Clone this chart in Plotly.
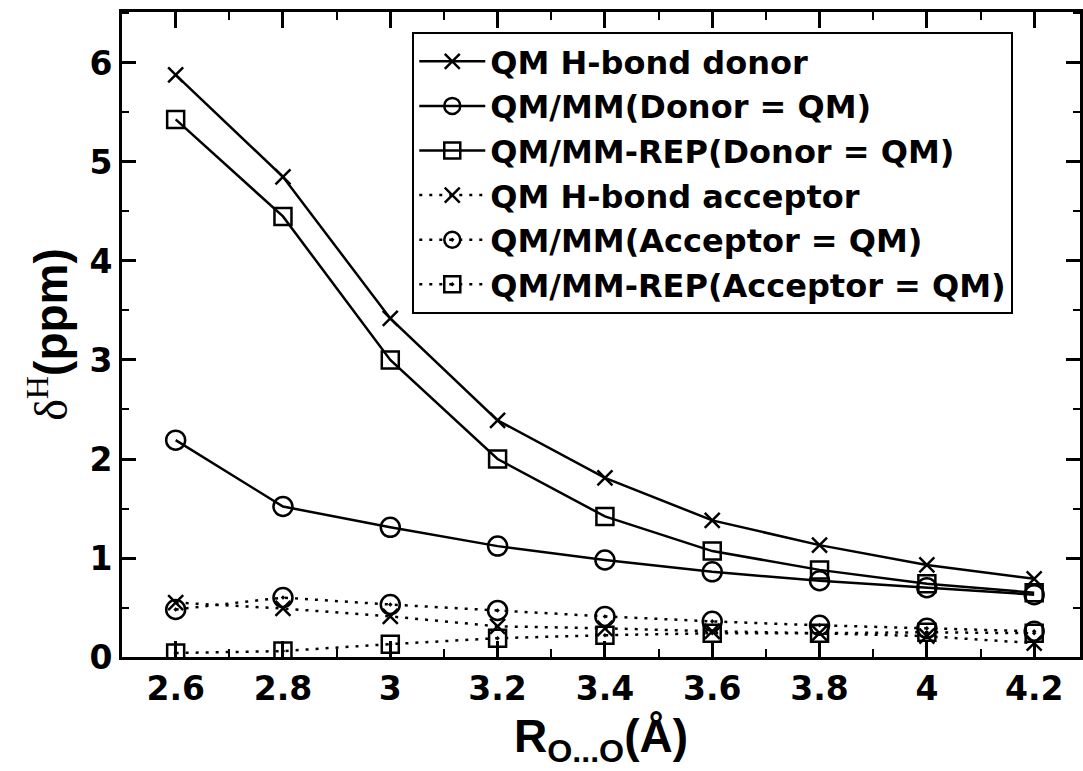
import plotly.graph_objects as go

r_oo = [2.6, 2.8, 3.0, 3.2, 3.4, 3.6, 3.8, 4.0, 4.2]

qm_donor = [5.88, 4.85, 3.42, 2.39, 1.81, 1.38, 1.13, 0.93, 0.79]
qmmm_donor = [2.19, 1.52, 1.31, 1.12, 0.98, 0.86, 0.77, 0.70, 0.63]
qmmmrep_donor = [5.43, 4.45, 3.00, 2.00, 1.42, 1.07, 0.88, 0.74, 0.65]
qm_acceptor = [0.55, 0.49, 0.41, 0.31, 0.29, 0.26, 0.24, 0.21, 0.14]
qmmm_acceptor = [0.48, 0.60, 0.53, 0.47, 0.41, 0.36, 0.32, 0.29, 0.26]
qmmmrep_acceptor = [0.04, 0.06, 0.13, 0.19, 0.22, 0.24, 0.24, 0.25, 0.24]

names = [
    "QM H-bond donor",
    "QM/MM(Donor = QM)",
    "QM/MM-REP(Donor = QM)",
    "QM H-bond acceptor",
    "QM/MM(Acceptor = QM)",
    "QM/MM-REP(Acceptor = QM)",
]

x_ticks = [2.6, 2.8, 3.0, 3.2, 3.4, 3.6, 3.8, 4.0, 4.2]
y_ticks = [0, 1, 2, 3, 4, 5, 6]

series = [qm_donor, qmmm_donor, qmmmrep_donor, qm_acceptor, qmmm_acceptor, qmmmrep_acceptor]
symbols = ["x-thin-open", "circle-open", "square-open", "x-thin-open", "circle-open-dot", "square-open-dot"]
sizes = [15, 19, 17, 15, 19, 17]
dashes = ["solid", "solid", "solid", "3px,7px", "3px,7px", "3px,7px"]

fig = go.Figure()
for name, ys, sym, sz, dash in zip(names, series, symbols, sizes, dashes):
    fig.add_trace(go.Scatter(
        x=r_oo, y=ys, name=name, mode="lines+markers",
        line=dict(color="black", width=2.5, dash=dash),
        marker=dict(symbol=sym, size=sz, color="black",
                    line=dict(color="black", width=2.5)),
    ))

FONT = "DejaVu Sans"
axis_common = dict(
    showline=True, linecolor="black", linewidth=3, mirror="ticks",
    ticks="inside", tickcolor="black", tickwidth=2.5,
    showgrid=False, zeroline=False,
    tickfont=dict(family=FONT, size=33, color="black", weight="bold"),
)

fig.update_xaxes(
    range=[2.5, 4.2854], tickvals=x_ticks, ticklen=16,
    minor=dict(dtick=0.1, tick0=2.5, ticklen=8, tickwidth=2, ticks="inside", tickcolor="black"),
    title=dict(text="<b>R<sub>O...O</sub>(Å)</b>",
               font=dict(family="Liberation Sans", size=46, color="black"), standoff=14),
    **axis_common,
)
fig.update_yaxes(
    range=[0, 6.515], tickvals=y_ticks, ticklen=14,
    minor=dict(dtick=0.5, tick0=0, ticklen=7, tickwidth=2, ticks="inside", tickcolor="black"),
    title=dict(text='<span style="font-family:Liberation Serif;font-weight:normal">δ<sup>H</sup></span><b>(ppm)</b>',
               font=dict(family="Liberation Sans", size=46, color="black"), standoff=8),
    **axis_common,
)

fig.update_layout(
    width=1083, height=771,
    margin=dict(l=122, r=0, t=12, b=114),
    paper_bgcolor="white", plot_bgcolor="white",
    showlegend=True,
    legend=dict(
        x=0.303, y=0.969, xanchor="left", yanchor="top",
        bgcolor="white", bordercolor="black", borderwidth=2,
        font=dict(family=FONT, size=32, color="black", weight="bold"),
        itemwidth=66, tracegroupgap=0,
    ),
)

fig.write_html("out.html")
